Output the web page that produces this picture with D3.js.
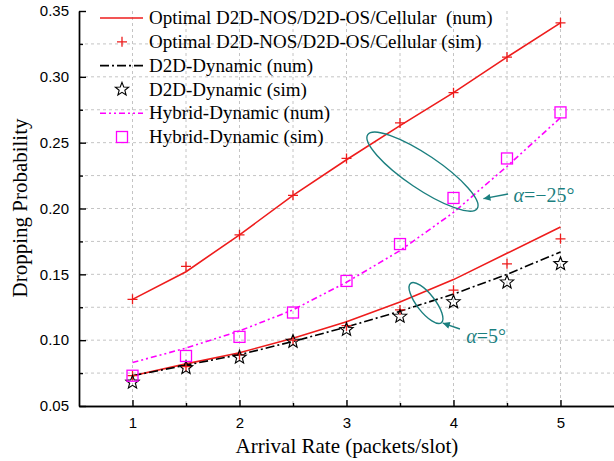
<!DOCTYPE html>
<meta charset="utf-8">
<style>
body { margin: 0; background: #fff; }
.tick text { font-family: "Liberation Sans", Arial, sans-serif; font-size: 15px; }
</style>
<body>
<script src="https://cdnjs.cloudflare.com/ajax/libs/d3/7.8.5/d3.min.js"></script>
<script>
// arrival rate (packets/slot)
var rate = [1, 1.5, 2, 2.5, 3, 3.5, 4, 4.5, 5];

// alpha = -25 deg
var optNum25 = [0.131, 0.152, 0.180, 0.210, 0.237, 0.263, 0.288, 0.315, 0.341];
var optSim25 = [0.131, 0.156, 0.180, 0.210, 0.238, 0.265, 0.288, 0.315, 0.341];
var hybNum = [0.083, 0.094, 0.107, 0.123, 0.144, 0.168, 0.197, 0.232, 0.269];
var hybSim = [0.073, 0.088, 0.1025, 0.121, 0.145, 0.173, 0.208, 0.238, 0.273];

// alpha = 5 deg
var optNum5 = [0.073, 0.082, 0.0905, 0.1015, 0.114, 0.129, 0.146, 0.166, 0.186];
var optSim5 = [0.073, 0.080, 0.089, 0.100, 0.111, 0.123, 0.138, 0.158, 0.177];
var dynNum = [0.073, 0.081, 0.089, 0.099, 0.110, 0.122, 0.135, 0.150, 0.167];
var dynSim = [0.068, 0.079, 0.087, 0.099, 0.108, 0.118, 0.129, 0.144, 0.158];

var xTicks = [1, 2, 3, 4, 5];
var xMinor = [1.5, 2.5, 3.5, 4.5];
var yTicks = [0.05, 0.10, 0.15, 0.20, 0.25, 0.30, 0.35];
var yMinor = [0.075, 0.125, 0.175, 0.225, 0.275, 0.325];

var legendLabels = [
	"Optimal D2D-NOS/D2D-OS/Cellular  (num)",
	"Optimal D2D-NOS/D2D-OS/Cellular (sim)",
	"D2D-Dynamic (num)",
	"D2D-Dynamic (sim)",
	"Hybrid-Dynamic (num)",
	"Hybrid-Dynamic (sim)"
];

var w = 614, h = 461;
var red = "#ee1c1c", mag = "#ff00ff", teal = "#1b7f7f";
var serif = "'Liberation Serif', 'Times New Roman', Times, serif";

var svg = d3.select("body").append("svg")
	.attr("width", w)
	.attr("height", h);

var x = d3.scaleLinear().domain([0.5, 5.5]).range([79, 614]);
var y = d3.scaleLinear().domain([0.05, 0.35]).range([406, 11]);

// grid
var grid = svg.append("g")
	.attr("stroke", "#c4c4c4")
	.attr("stroke-width", 1)
	.attr("stroke-dasharray", "3,3");
grid.selectAll(".gx")
	.data(xTicks.concat(xMinor))
	.enter().append("line")
	.attr("x1", d => x(d)).attr("x2", d => x(d))
	.attr("y1", y(0.35)).attr("y2", y(0.05));
grid.selectAll(".gy")
	.data(yTicks.slice(1, 6).concat(yMinor))
	.enter().append("line")
	.attr("y1", d => y(d)).attr("y2", d => y(d))
	.attr("x1", x(0.5)).attr("x2", w);

// axes (ticks point inward)
svg.append("g")
	.attr("transform", "translate(0," + y(0.05) + ")")
	.call(d3.axisBottom(x).tickValues(xTicks).tickFormat(d3.format("d"))
		.tickSize(-6).tickSizeOuter(0).tickPadding(11));
svg.append("g")
	.attr("transform", "translate(0," + y(0.05) + ")")
	.call(d3.axisBottom(x).tickValues(xMinor).tickFormat("")
		.tickSize(-3).tickSizeOuter(0));
svg.append("g")
	.attr("transform", "translate(" + x(0.5) + ",0)")
	.call(d3.axisLeft(y).tickValues(yTicks).tickFormat(d3.format(".2f"))
		.tickSize(-7).tickSizeOuter(0).tickPadding(10));
svg.append("g")
	.attr("transform", "translate(" + x(0.5) + ",0)")
	.call(d3.axisLeft(y).tickValues(yMinor).tickFormat("")
		.tickSize(-4).tickSizeOuter(0));
svg.selectAll(".domain, .tick line").attr("stroke-width", 1.4);

// axis titles
svg.append("text")
	.attr("x", 347).attr("y", 453)
	.attr("text-anchor", "middle")
	.attr("font-family", serif)
	.attr("font-size", 21)
	.text("Arrival Rate (packets/slot)");
svg.append("text")
	.attr("transform", "translate(27,208) rotate(-90)")
	.attr("text-anchor", "middle")
	.attr("font-family", serif)
	.attr("font-size", 21)
	.text("Dropping Probability");

// lines
function line(vals) {
	return d3.line().x((d, i) => x(rate[i])).y(d => y(d))(vals);
}
var series = [
	{ v: optNum25, c: red, dash: null },
	{ v: optNum5, c: red, dash: null },
	{ v: dynNum, c: "#000", dash: "9,3,2,3" },
	{ v: hybNum, c: mag, dash: "6,3,2,3,2,3" }
];
svg.selectAll(".ln").data(series).enter().append("path")
	.attr("d", d => line(d.v))
	.attr("fill", "none")
	.attr("stroke", d => d.c)
	.attr("stroke-width", 1.6)
	.attr("stroke-dasharray", d => d.dash);

// markers
var plusPath = "M-5,0H5M0,-5V5";
function starPath(R, r) {
	var p = [];
	for (var i = 0; i < 10; i++) {
		var a = -Math.PI / 2 + i * Math.PI / 5;
		var rr = i % 2 ? r : R;
		p.push([rr * Math.cos(a), rr * Math.sin(a)]);
	}
	return "M" + p.join("L") + "Z";
}
var star = starPath(7, 3);

function plus(g, vals) {
	g.selectAll(null).data(vals).enter().append("path")
		.attr("d", plusPath)
		.attr("transform", (d, i) => "translate(" + x(rate[i]) + "," + y(d) + ")")
		.attr("stroke", red).attr("stroke-width", 1.3);
}
plus(svg, optSim25);
plus(svg, optSim5);
svg.selectAll(".st").data(dynSim).enter().append("path")
	.attr("d", star)
	.attr("transform", (d, i) => "translate(" + x(rate[i]) + "," + y(d) + ")")
	.attr("fill", "none").attr("stroke", "#000").attr("stroke-width", 1.1);
svg.selectAll(".sq").data(hybSim).enter().append("rect")
	.attr("x", (d, i) => x(rate[i]) - 5.5)
	.attr("y", d => y(d) - 5.5)
	.attr("width", 11).attr("height", 11)
	.attr("fill", "none").attr("stroke", mag).attr("stroke-width", 1.3);

// legend
var lg = svg.append("g");
var rows = lg.selectAll("g").data(legendLabels).enter().append("g")
	.attr("transform", (d, i) => "translate(0," + (18 + i * 23.8) + ")");
rows.append("text")
	.attr("x", 149).attr("dy", "0.33em")
	.attr("font-family", serif)
	.attr("font-size", 19)
	.style("white-space", "pre")
	.text(d => d);
rows.filter((d, i) => i === 0).append("line")
	.attr("x1", 100).attr("x2", 143).attr("stroke", red).attr("stroke-width", 1.6);
rows.filter((d, i) => i === 2).append("line")
	.attr("x1", 100).attr("x2", 143).attr("stroke", "#000").attr("stroke-width", 1.6)
	.attr("stroke-dasharray", "9,3,2,3");
rows.filter((d, i) => i === 4).append("line")
	.attr("x1", 100).attr("x2", 143).attr("stroke", mag).attr("stroke-width", 1.6)
	.attr("stroke-dasharray", "6,3,2,3,2,3");
rows.filter((d, i) => i === 1).append("path")
	.attr("d", plusPath).attr("transform", "translate(122,0)")
	.attr("stroke", red).attr("stroke-width", 1.3);
rows.filter((d, i) => i === 3).append("path")
	.attr("d", star).attr("transform", "translate(122,0)")
	.attr("fill", "none").attr("stroke", "#000").attr("stroke-width", 1.1);
rows.filter((d, i) => i === 5).append("rect")
	.attr("x", 116.5).attr("y", -5.5).attr("width", 11).attr("height", 11)
	.attr("fill", "none").attr("stroke", mag).attr("stroke-width", 1.3);

// annotations
svg.append("defs").append("marker")
	.attr("id", "ah").attr("viewBox", "0 0 10 10")
	.attr("refX", 10).attr("refY", 5)
	.attr("markerWidth", 9).attr("markerHeight", 7)
	.attr("markerUnits", "userSpaceOnUse")
	.attr("orient", "auto")
	.append("path").attr("d", "M0,0L10,5L0,10Z").attr("fill", teal);

var notes = [
	{ cx: 3.71, cy: 0.228, rx: 66, ry: 17, rot: 34,
	  ax1: 4.51, ay1: 0.211, ax2: 4.28, ay2: 0.2075,
	  tx: 4.56, ty: 0.205, label: "=\u221225\u00b0" },
	{ cx: 3.743, cy: 0.1282, rx: 25, ry: 9, rot: 52,
	  ax1: 4.06, ay1: 0.1085, ax2: 3.9, ay2: 0.113,
	  tx: 4.12, ty: 0.0978, label: "=5\u00b0" }
];
var ng = svg.selectAll(".note").data(notes).enter().append("g");
ng.append("ellipse")
	.attr("rx", d => d.rx).attr("ry", d => d.ry)
	.attr("transform", d => "translate(" + x(d.cx) + "," + y(d.cy) + ") rotate(" + d.rot + ")")
	.attr("fill", "none").attr("stroke", teal).attr("stroke-width", 1.4);
ng.append("line")
	.attr("x1", d => x(d.ax1)).attr("y1", d => y(d.ay1))
	.attr("x2", d => x(d.ax2)).attr("y2", d => y(d.ay2))
	.attr("stroke", teal).attr("stroke-width", 1.4)
	.attr("marker-end", "url(#ah)");
var nt = ng.append("text")
	.attr("x", d => x(d.tx)).attr("y", d => y(d.ty))
	.attr("font-family", serif)
	.attr("font-size", 20)
	.attr("fill", teal);
nt.append("tspan").attr("font-style", "italic").text("\u03b1");
nt.append("tspan").text(d => d.label);
</script>
</body>
